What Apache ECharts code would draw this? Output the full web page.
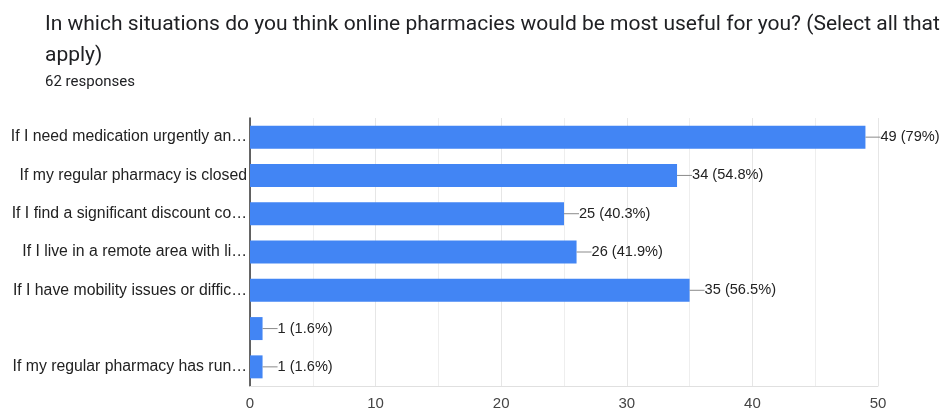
<!DOCTYPE html>
<html>
<head>
<meta charset="utf-8">
<script src="https://cdn.jsdelivr.net/npm/echarts@6/dist/echarts.min.js"></script>
<style>
  html, body { margin: 0; padding: 0; background: #fff; }
  #chart { width: 945px; height: 412px; }
</style>
</head>
<body>
<div id="chart"></div>
<script>
// --- DATA ---
const categories = [
    'If I need medication urgently an…',
    'If my regular pharmacy is closed',
    'If I find a significant discount co…',
    'If I live in a remote area with li…',
    'If I have mobility issues or diffic…',
    '',
    'If my regular pharmacy has run…'
];
const counts = [49, 34, 25, 26, 35, 1, 1];
const percents = ['79%', '54.8%', '40.3%', '41.9%', '56.5%', '1.6%', '1.6%'];
const xTicks = [0, 10, 20, 30, 40, 50];

// --- CHART ---
const chart = echarts.init(document.getElementById('chart'));

const option = {
    animation: false,
    title: {
        text: 'In which situations do you think online pharmacies would be most useful for you? (Select all that\napply)',
        subtext: '62 responses',
        left: 40, top: 4,
        itemGap: 4,
        textStyle: { fontFamily: 'Roboto', fontSize: 21, fontWeight: 'normal', color: '#202124', lineHeight: 31 },
        subtextStyle: { fontFamily: 'Roboto', fontSize: 15, color: '#202124' }
    },
    grid: { left: 250, right: 67, top: 118, bottom: 26 },
    xAxis: {
        type: 'value',
        min: xTicks[0], max: xTicks[xTicks.length - 1], interval: 10,
        axisLine: { show: true, lineStyle: { color: '#e0e0e0' } },
        axisTick: { show: false },
        axisLabel: { fontFamily: 'Arial, Liberation Sans', fontSize: 15, color: '#444', margin: 10 },
        splitLine: { lineStyle: { color: '#e6e6e6' } },
        minorTick: { show: false, splitNumber: 2 },
        minorSplitLine: { show: true, lineStyle: { color: '#eeeeee' } }
    },
    yAxis: {
        type: 'category',
        inverse: true,
        data: categories,
        axisLine: { show: true, lineStyle: { color: '#333', width: 1.5 } },
        axisTick: { show: false },
        axisLabel: { fontFamily: 'Arial, Liberation Sans', fontSize: 15.8, color: '#222', margin: 3 }
    },
    series: [{
        type: 'bar',
        data: counts,
        barWidth: '60%',
        itemStyle: { color: '#4285f4' },
        label: {
            show: true,
            position: 'right',
            distance: 0,
            formatter: p => `{l|}{v|${p.value} (${percents[p.dataIndex]})}`,
            rich: {
                l: { width: 15, height: 1, backgroundColor: '#8a8a8a', verticalAlign: 'middle' },
                v: { fontFamily: 'Arial, Liberation Sans', fontSize: 14.6, color: '#222' }
            }
        }
    }]
};
chart.setOption(option);
</script>
</body>
</html>
